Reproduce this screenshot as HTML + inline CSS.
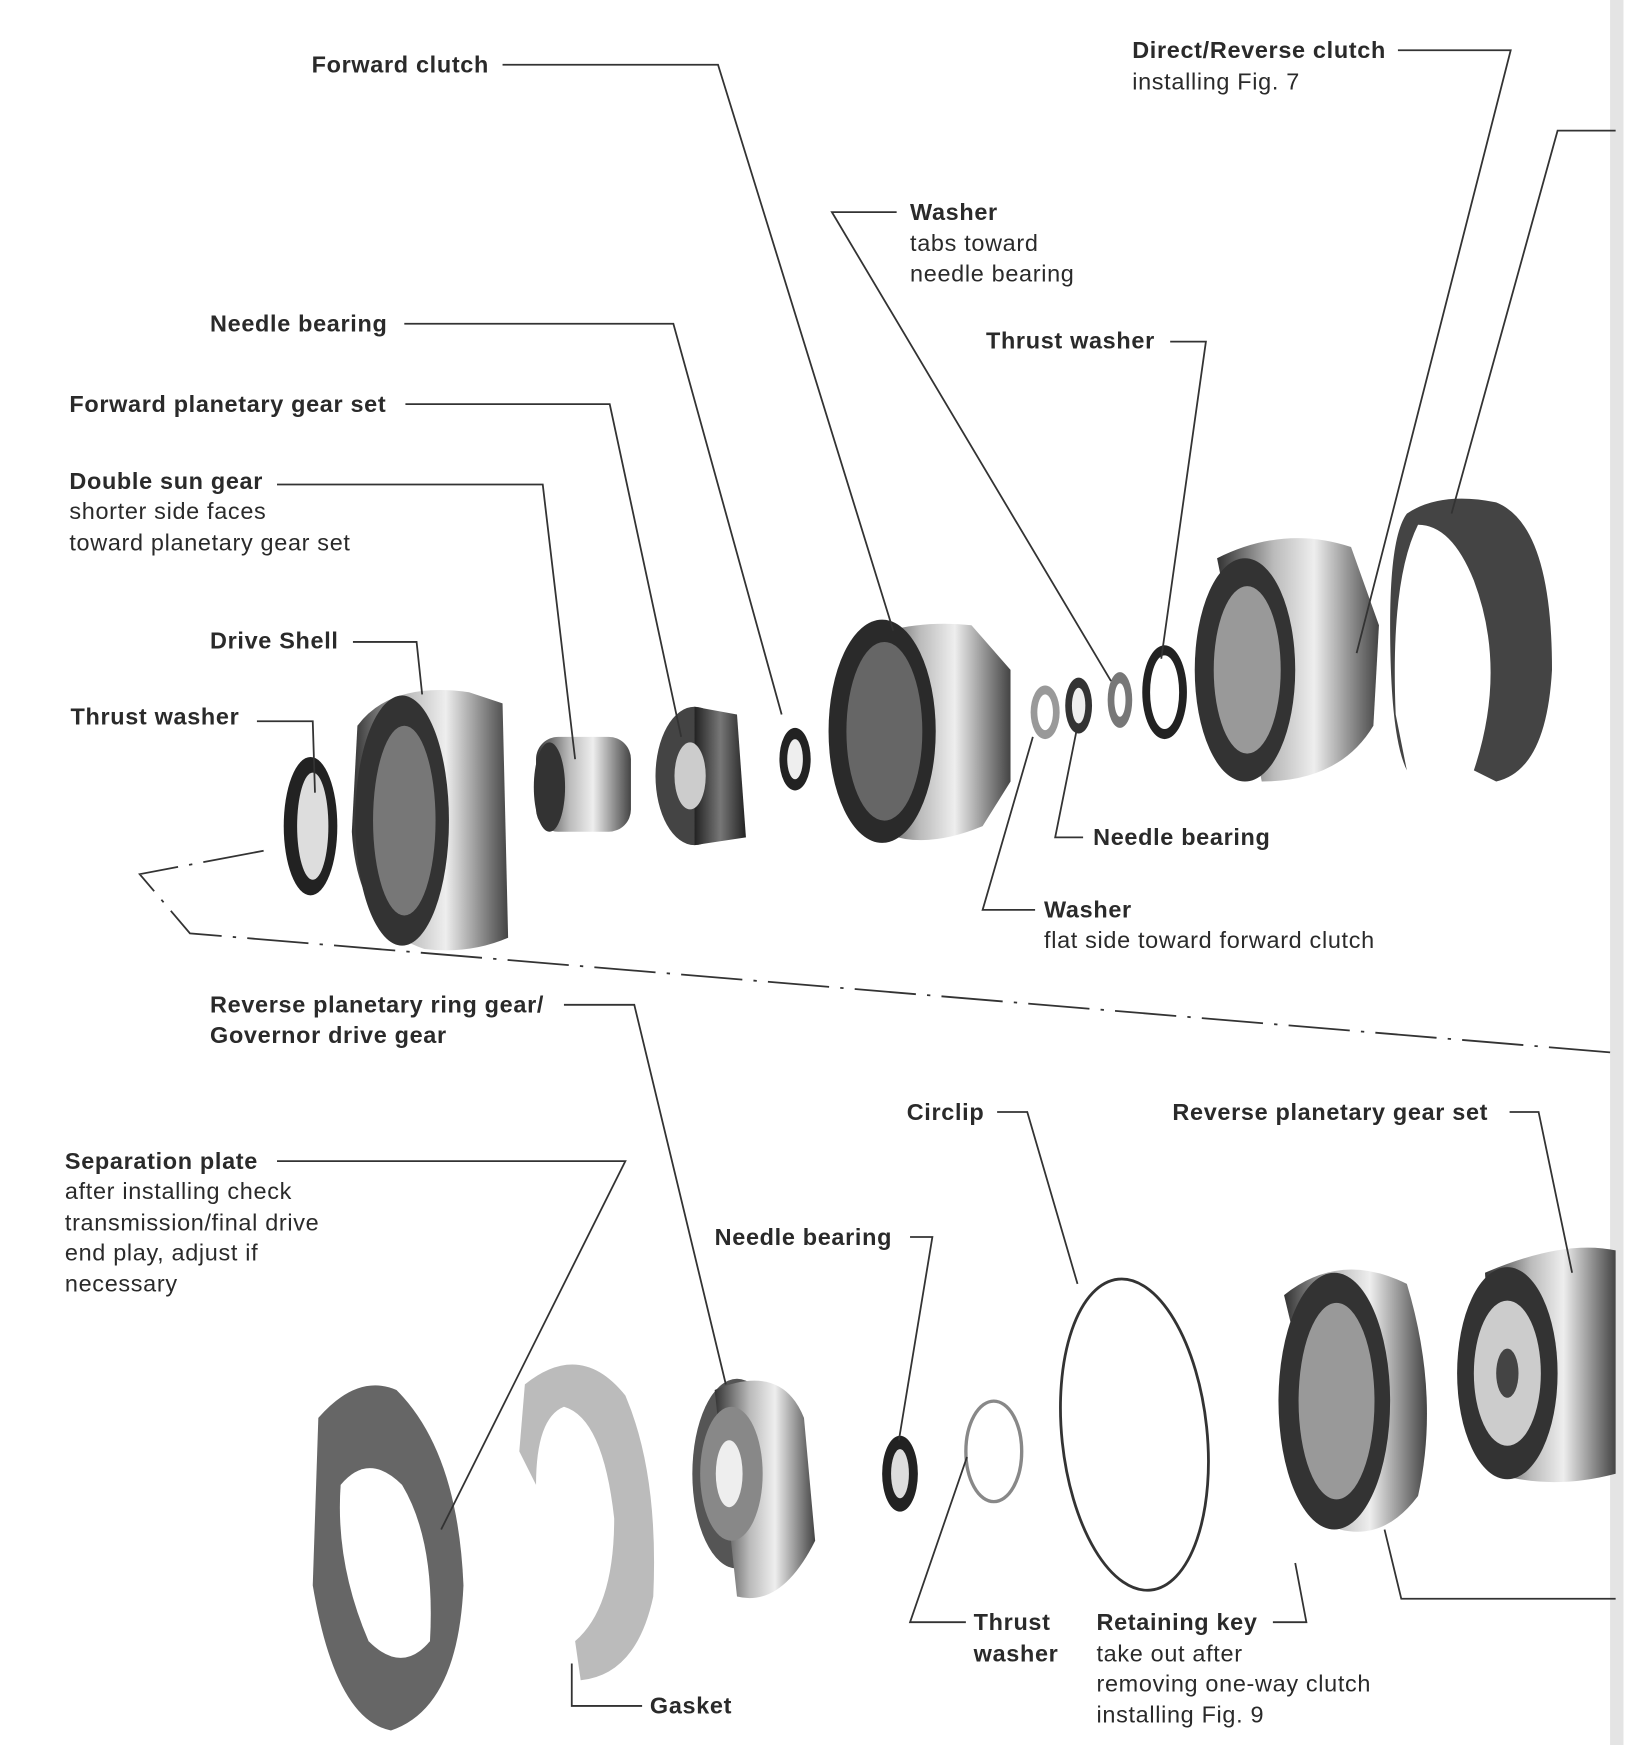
<!DOCTYPE html>
<html><head><meta charset="utf-8"><style>
html,body{margin:0;padding:0;background:#fff;}
svg{display:block;}
text{font-family:"Liberation Sans",Arial,sans-serif;fill:#2a2a2a;font-size:21px;letter-spacing:0.6px;}
.b{font-weight:bold;}
.l{fill:none;stroke:#333;stroke-width:1.6;}
</style></head><body>
<svg width="1637" height="1745" viewBox="0 0 1466 1563" xmlns="http://www.w3.org/2000/svg">
<defs>
<linearGradient id="m" x1="0" y1="0" x2="1" y2="0">
<stop offset="0" stop-color="#333"/><stop offset="0.35" stop-color="#bbb"/><stop offset="0.6" stop-color="#eee"/><stop offset="1" stop-color="#444"/></linearGradient>
<linearGradient id="d" x1="0" y1="0" x2="1" y2="0">
<stop offset="0" stop-color="#222"/><stop offset="0.5" stop-color="#777"/><stop offset="1" stop-color="#222"/></linearGradient>
</defs>
<rect x="1442" y="0" width="12" height="1563" fill="#e4e4e4"/>

<ellipse cx="278" cy="740" rx="24" ry="62" fill="#222"/><ellipse cx="280" cy="740" rx="14" ry="48" fill="#ddd"/>
<path d="M320 650 Q350 610 420 620 L450 630 L455 840 Q420 855 380 850 Q320 830 315 745 Z" fill="url(#m)"/>
<ellipse cx="360" cy="735" rx="42" ry="112" fill="#333"/><ellipse cx="362" cy="735" rx="28" ry="85" fill="#777"/>
<rect x="480" y="660" width="85" height="85" rx="20" fill="url(#m)"/><ellipse cx="492" cy="705" rx="14" ry="40" fill="#333"/>
<ellipse cx="622" cy="695" rx="35" ry="62" fill="#444"/><path d="M622 633 L660 640 L668 750 L622 757 Z" fill="url(#d)"/><ellipse cx="618" cy="695" rx="14" ry="30" fill="#ccc"/>
<ellipse cx="712" cy="680" rx="14" ry="28" fill="#222"/><ellipse cx="712" cy="680" rx="7" ry="18" fill="#eee"/>
<path d="M780 570 Q820 555 870 560 L905 600 L905 700 L880 740 Q820 765 780 740 Z" fill="url(#m)"/>
<ellipse cx="790" cy="655" rx="48" ry="100" fill="#2a2a2a"/><ellipse cx="792" cy="655" rx="34" ry="80" fill="#666"/>
<ellipse cx="936" cy="638" rx="13" ry="24" fill="#999"/><ellipse cx="936" cy="638" rx="7" ry="16" fill="#fff"/>
<ellipse cx="966" cy="632" rx="12" ry="25" fill="#333"/><ellipse cx="966" cy="632" rx="6" ry="16" fill="#eee"/>
<ellipse cx="1003" cy="627" rx="11" ry="25" fill="#777"/><ellipse cx="1003" cy="627" rx="5" ry="15" fill="#fff"/>
<ellipse cx="1043" cy="620" rx="20" ry="42" fill="#222"/><ellipse cx="1043" cy="620" rx="13" ry="33" fill="#fff"/>
<path d="M1090 500 Q1150 470 1210 490 L1235 560 L1230 650 Q1200 700 1130 700 Z" fill="url(#m)"/>
<ellipse cx="1115" cy="600" rx="45" ry="100" fill="#333"/><ellipse cx="1117" cy="600" rx="30" ry="75" fill="#999"/>
<path d="M1260 460 Q1290 440 1340 450 Q1390 470 1390 600 Q1385 690 1340 700 L1320 690 Q1350 600 1320 520 Q1300 470 1270 470 Q1245 520 1250 640 L1260 690 Q1245 660 1245 560 Q1245 480 1260 460 Z" fill="#444"/>

<path d="M285 1270 Q320 1230 355 1245 Q410 1300 415 1420 Q410 1530 350 1550 Q300 1540 280 1420 Z" fill="#666"/>
<path d="M305 1330 Q330 1300 360 1330 Q390 1380 385 1470 Q360 1500 330 1470 Q300 1400 305 1330 Z" fill="#fff"/>
<path d="M470 1240 Q520 1200 560 1250 Q590 1320 585 1430 Q570 1500 520 1505 L515 1470 Q550 1440 550 1360 Q540 1270 505 1260 Q480 1270 480 1330 L465 1300 Z" fill="#bbb"/>
<ellipse cx="660" cy="1320" rx="40" ry="85" fill="#555"/><path d="M640 1245 Q700 1220 720 1270 L730 1380 Q700 1440 660 1430 Z" fill="url(#m)"/><ellipse cx="655" cy="1320" rx="28" ry="60" fill="#888"/><ellipse cx="653" cy="1320" rx="12" ry="30" fill="#eee"/>
<ellipse cx="806" cy="1320" rx="16" ry="34" fill="#222"/><ellipse cx="806" cy="1320" rx="8" ry="22" fill="#ddd"/>
<ellipse cx="890" cy="1300" rx="25" ry="45" fill="none" stroke="#888" stroke-width="3"/>
<ellipse cx="1016" cy="1285" rx="65" ry="140" fill="none" stroke="#333" stroke-width="2.5" transform="rotate(-6 1016 1285)"/>
<path d="M1150 1160 Q1200 1120 1260 1150 Q1290 1250 1270 1340 Q1240 1380 1200 1370 Z" fill="url(#m)"/>
<ellipse cx="1195" cy="1255" rx="50" ry="115" fill="#333"/><ellipse cx="1197" cy="1255" rx="34" ry="88" fill="#999"/>
<path d="M1330 1140 Q1400 1110 1447 1120 L1447 1320 Q1390 1335 1340 1320 Z" fill="url(#m)"/>
<ellipse cx="1350" cy="1230" rx="45" ry="95" fill="#333"/><ellipse cx="1350" cy="1230" rx="30" ry="65" fill="#ccc"/><ellipse cx="1350" cy="1230" rx="10" ry="22" fill="#444"/>

<polyline class="l" points="236,762 125,783 170,836 1447,943" stroke-dasharray="55,10,3,10"/>

<polyline class="l" points="450,58 643,58 800,565"/>
<polyline class="l" points="1252,45 1353,45 1215,585"/>
<polyline class="l" points="1447,117 1395,117 1300,460"/>
<polyline class="l" points="803,190 745,190 995,610"/>
<polyline class="l" points="1048,306 1080,306 1040,590"/>
<polyline class="l" points="362,290 603,290 700,640"/>
<polyline class="l" points="363,362 546,362 610,660"/>
<polyline class="l" points="248,434 486,434 515,680"/>
<polyline class="l" points="316,575 373,575 378,622"/>
<polyline class="l" points="230,646 280,646 282,710"/>
<polyline class="l" points="970,750 945,750 965,650"/>
<polyline class="l" points="927,815 880,815 925,660"/>
<polyline class="l" points="505,900 568,900 650,1240"/>
<polyline class="l" points="248,1040 560,1040 395,1370"/>
<polyline class="l" points="815,1108 835,1108 805,1290"/>
<polyline class="l" points="893,996 920,996 965,1150"/>
<polyline class="l" points="1352,996 1378,996 1408,1140"/>
<polyline class="l" points="865,1453 815,1453 866,1305"/>
<polyline class="l" points="1140,1453 1170,1453 1160,1400"/>
<polyline class="l" points="575,1528 512,1528 512,1490"/>
<polyline class="l" points="1447,1432 1255,1432 1240,1370"/>

<text class="b" x="279" y="65">Forward clutch</text>
<text class="b" x="1014" y="52">Direct/Reverse clutch</text>
<text x="1014" y="80">installing Fig. 7</text>
<text class="b" x="815" y="197">Washer</text>
<text x="815" y="225">tabs toward</text>
<text x="815" y="252">needle bearing</text>
<text class="b" x="883" y="312">Thrust washer</text>
<text class="b" x="188" y="297">Needle bearing</text>
<text class="b" x="62" y="369">Forward planetary gear set</text>
<text class="b" x="62" y="438">Double sun gear</text>
<text x="62" y="465">shorter side faces</text>
<text x="62" y="493">toward planetary gear set</text>
<text class="b" x="188" y="581">Drive Shell</text>
<text class="b" x="63" y="649">Thrust washer</text>
<text class="b" x="979" y="757">Needle bearing</text>
<text class="b" x="935" y="822">Washer</text>
<text x="935" y="849">flat side toward forward clutch</text>
<text class="b" x="188" y="907">Reverse planetary ring gear/</text>
<text class="b" x="188" y="934">Governor drive gear</text>
<text class="b" x="812" y="1003">Circlip</text>
<text class="b" x="1050" y="1003">Reverse planetary gear set</text>
<text class="b" x="58" y="1047">Separation plate</text>
<text x="58" y="1074">after installing check</text>
<text x="58" y="1102">transmission/final drive</text>
<text x="58" y="1129">end play, adjust if</text>
<text x="58" y="1157">necessary</text>
<text class="b" x="640" y="1115">Needle bearing</text>
<text class="b" x="872" y="1460">Thrust</text>
<text class="b" x="872" y="1488">washer</text>
<text class="b" x="982" y="1460">Retaining key</text>
<text x="982" y="1488">take out after</text>
<text x="982" y="1515">removing one-way clutch</text>
<text x="982" y="1543">installing Fig. 9</text>
<text class="b" x="582" y="1535">Gasket</text>
</svg>
</body></html>
